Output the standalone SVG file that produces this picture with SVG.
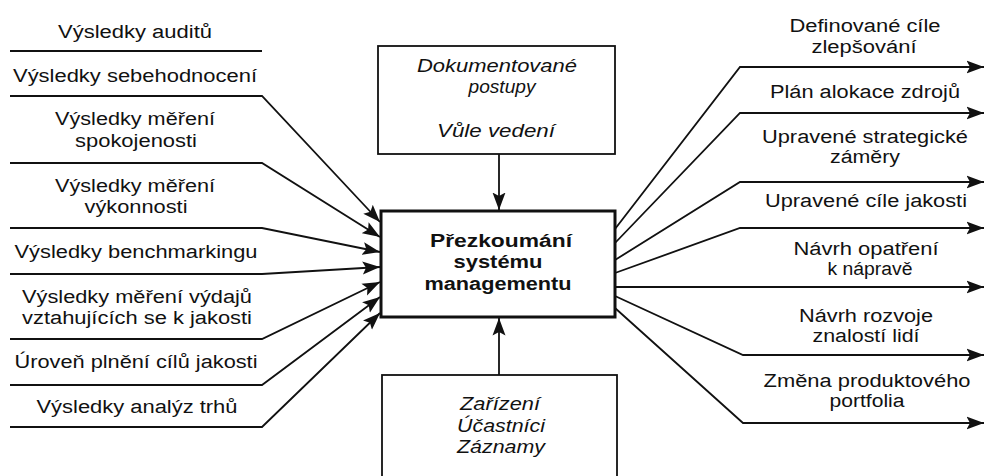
<svg xmlns="http://www.w3.org/2000/svg" width="984" height="476" viewBox="0 0 984 476">
<style>
text{font-family:"Liberation Sans",Arial,sans-serif;font-size:18px;fill:#111;text-anchor:middle}
.it{font-style:italic}
.b{font-weight:bold}
.box{fill:#fff;stroke:#111;stroke-width:1.8}
.main{fill:#fff;stroke:#111;stroke-width:3}
.c{fill:none;stroke:#111;stroke-width:1.8}
.a{marker-end:url(#ah)}
</style>
<defs>
<marker id="ah" markerUnits="userSpaceOnUse" markerWidth="18" markerHeight="14" viewBox="0 0 18 14" refX="17.5" refY="7" orient="auto">
<path d="M0,0.5 L17.5,7 L0,13.5 L3.5,7 Z" fill="#111"/>
</marker>
</defs>
<rect width="984" height="476" fill="#fff"/>
<g id="connectors">
<path class="c" d="M10,51 H262"/>
<path class="c a" d="M10,96 H262 L380,222"/>
<path class="c a" d="M10,163 H262 L380,237"/>
<path class="c a" d="M10,228 H262 L380,252"/>
<path class="c a" d="M10,274 H262 L380,267"/>
<path class="c a" d="M10,339 H262 L380,282"/>
<path class="c a" d="M10,385 H262 L380,297"/>
<path class="c a" d="M10,427 H262 L380,313"/>
<path class="c a" d="M615,229 L740,67 H984"/>
<path class="c a" d="M615,243 L740,113 H984"/>
<path class="c a" d="M615,260 L740,182 H984"/>
<path class="c a" d="M615,273 L740,228 H984"/>
<path class="c a" d="M615,287 H984"/>
<path class="c a" d="M615,296 L743,355 H984"/>
<path class="c a" d="M615,308 L743,423 H984"/>
<path class="c a" d="M499,154 V210"/>
<path class="c a" d="M499,375 V318"/>
</g>
<g id="top-box">
<rect class="box" x="378" y="46" width="237" height="108"/>
<text class="it" x="497" y="72" textLength="160" lengthAdjust="spacingAndGlyphs">Dokumentované</text>
<text class="it" x="502" y="93" textLength="67" lengthAdjust="spacingAndGlyphs">postupy</text>
<text class="it" x="496" y="137" textLength="118" lengthAdjust="spacingAndGlyphs">Vůle vedení</text>
</g>
<g id="main-box">
<rect class="main" x="381" y="211" width="234" height="106"/>
<text class="b" x="501" y="247" textLength="142" lengthAdjust="spacingAndGlyphs">Přezkoumání</text>
<text class="b" x="498" y="268" textLength="89" lengthAdjust="spacingAndGlyphs">systému</text>
<text class="b" x="498" y="290" textLength="147" lengthAdjust="spacingAndGlyphs">managementu</text>
</g>
<g id="bottom-box">
<rect class="box" x="382" y="375" width="235" height="130"/>
<text class="it" x="500" y="410" textLength="80" lengthAdjust="spacingAndGlyphs">Zařízení</text>
<text class="it" x="501" y="432" textLength="88" lengthAdjust="spacingAndGlyphs">Účastníci</text>
<text class="it" x="501" y="453" textLength="88" lengthAdjust="spacingAndGlyphs">Záznamy</text>
</g>
<g id="in-audity"><text x="135" y="38" textLength="154" lengthAdjust="spacingAndGlyphs">Výsledky auditů</text></g>
<g id="in-sebehodnoceni"><text x="135" y="82" textLength="244" lengthAdjust="spacingAndGlyphs">Výsledky sebehodnocení</text></g>
<g id="in-spokojenost">
<text x="135" y="125" textLength="160" lengthAdjust="spacingAndGlyphs">Výsledky měření</text>
<text x="136" y="147" textLength="122" lengthAdjust="spacingAndGlyphs">spokojenosti</text>
</g>
<g id="in-vykonnost">
<text x="135" y="192" textLength="160" lengthAdjust="spacingAndGlyphs">Výsledky měření</text>
<text x="136" y="213" textLength="103" lengthAdjust="spacingAndGlyphs">výkonnosti</text>
</g>
<g id="in-benchmarking"><text x="136" y="258" textLength="243" lengthAdjust="spacingAndGlyphs">Výsledky benchmarkingu</text></g>
<g id="in-vydaje">
<text x="137" y="303" textLength="230" lengthAdjust="spacingAndGlyphs">Výsledky měření výdajů</text>
<text x="137" y="324" textLength="230" lengthAdjust="spacingAndGlyphs">vztahujících se k jakosti</text>
</g>
<g id="in-cile"><text x="136" y="368" textLength="243" lengthAdjust="spacingAndGlyphs">Úroveň plnění cílů jakosti</text></g>
<g id="in-trhy"><text x="137" y="413" textLength="201" lengthAdjust="spacingAndGlyphs">Výsledky analýz trhů</text></g>
<g id="out-zlepsovani">
<text x="865" y="32" textLength="151" lengthAdjust="spacingAndGlyphs">Definované cíle</text>
<text x="864" y="53" textLength="105" lengthAdjust="spacingAndGlyphs">zlepšování</text>
</g>
<g id="out-zdroje"><text x="865" y="98" textLength="190" lengthAdjust="spacingAndGlyphs">Plán alokace zdrojů</text></g>
<g id="out-zamery">
<text x="865" y="143" textLength="206" lengthAdjust="spacingAndGlyphs">Upravené strategické</text>
<text x="865" y="163" textLength="70" lengthAdjust="spacingAndGlyphs">záměry</text>
</g>
<g id="out-jakost"><text x="866" y="207" textLength="202" lengthAdjust="spacingAndGlyphs">Upravené cíle jakosti</text></g>
<g id="out-naprava">
<text x="866" y="255" textLength="145" lengthAdjust="spacingAndGlyphs">Návrh opatření</text>
<text x="870" y="275" textLength="85" lengthAdjust="spacingAndGlyphs">k nápravě</text>
</g>
<g id="out-znalosti">
<text x="866" y="322" textLength="134" lengthAdjust="spacingAndGlyphs">Návrh rozvoje</text>
<text x="866" y="342" textLength="107" lengthAdjust="spacingAndGlyphs">znalostí lidí</text>
</g>
<g id="out-portfolio">
<text x="867" y="387" textLength="207" lengthAdjust="spacingAndGlyphs">Změna produktového</text>
<text x="867" y="407" textLength="75" lengthAdjust="spacingAndGlyphs">portfolia</text>
</g>
</svg>
